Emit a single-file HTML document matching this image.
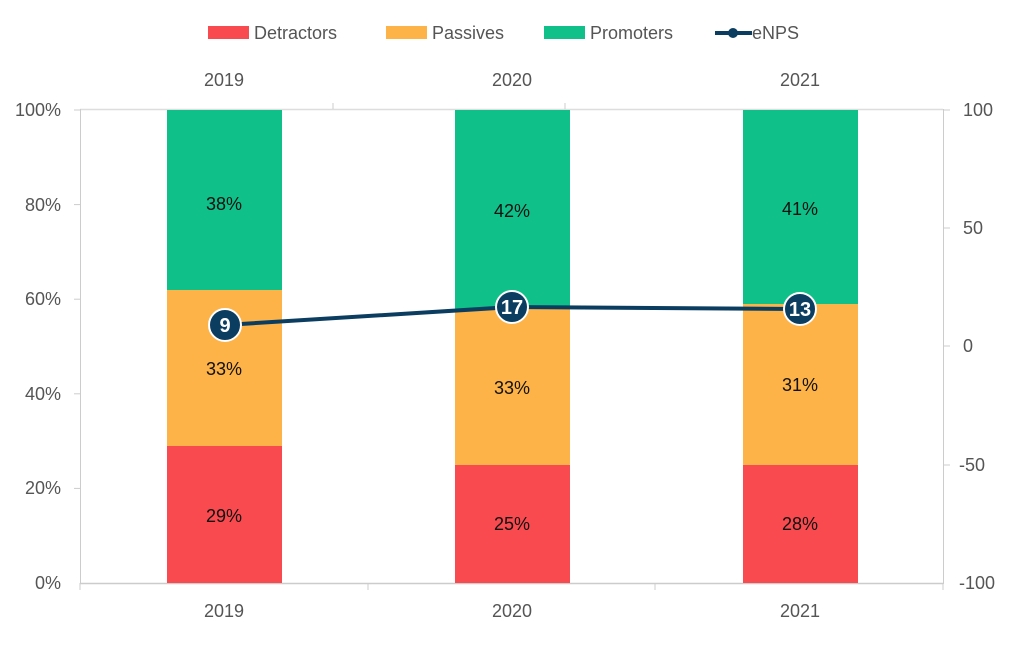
<!DOCTYPE html>
<html><head><meta charset="utf-8"><style>
body{margin:0;background:#fff;}
svg text{font-family:"Liberation Sans",sans-serif;}
</style></head><body>
<svg width="1024" height="643" viewBox="0 0 1024 643" xmlns="http://www.w3.org/2000/svg">
<rect x="208" y="26" width="41" height="13" fill="#f94a4f"/>
<text x="254" y="39" font-size="18" fill="#555">Detractors</text>
<rect x="386" y="26" width="41" height="13" fill="#fdb347"/>
<text x="432" y="39" font-size="18" fill="#555">Passives</text>
<rect x="544" y="26" width="41" height="13" fill="#0fc189"/>
<text x="590" y="39" font-size="18" fill="#555">Promoters</text>
<line x1="715" y1="33" x2="752" y2="33" stroke="#0b3d60" stroke-width="4"/>
<circle cx="733" cy="33" r="5" fill="#0b3d60"/>
<text x="752" y="39" font-size="18" fill="#555">eNPS</text>
<g font-size="18" fill="#555" text-anchor="middle">
<text x="224" y="86">2019</text><text x="512" y="86">2020</text><text x="800" y="86">2021</text>
<text x="224" y="617">2019</text><text x="512" y="617">2020</text><text x="800" y="617">2021</text>
</g>
<line x1="80" y1="109.5" x2="943" y2="109.5" stroke="#ddd" stroke-width="1.5"/>
<line x1="333" y1="103" x2="333" y2="109" stroke="#ccc"/>
<line x1="565" y1="103" x2="565" y2="109" stroke="#ccc"/>
<line x1="80" y1="583.5" x2="943" y2="583.5" stroke="#ccc" stroke-width="1.5"/>
<line x1="80.5" y1="109" x2="80.5" y2="584" stroke="#ccc"/>
<line x1="943.5" y1="109" x2="943.5" y2="584" stroke="#ccc"/>
<g stroke="#ccc">
<line x1="80" y1="583" x2="80" y2="590"/><line x1="368" y1="583" x2="368" y2="590"/><line x1="655" y1="583" x2="655" y2="590"/><line x1="943" y1="583" x2="943" y2="590"/>
<line x1="74" y1="110" x2="80" y2="110"/><line x1="74" y1="204.6" x2="80" y2="204.6"/><line x1="74" y1="299.2" x2="80" y2="299.2"/><line x1="74" y1="393.8" x2="80" y2="393.8"/><line x1="74" y1="488.4" x2="80" y2="488.4"/>
<line x1="943" y1="110" x2="950" y2="110"/><line x1="943" y1="228" x2="950" y2="228"/><line x1="943" y1="346" x2="950" y2="346"/><line x1="943" y1="465" x2="950" y2="465"/>
</g>
<g font-size="18" fill="#555" text-anchor="end">
<text x="61" y="116">100%</text><text x="61" y="211">80%</text><text x="61" y="305">60%</text><text x="61" y="400">40%</text><text x="61" y="494">20%</text><text x="61" y="589">0%</text>
</g>
<g font-size="18" fill="#555" text-anchor="start">
<text x="963" y="116">100</text><text x="963" y="234">50</text><text x="963" y="352">0</text><text x="959" y="471">-50</text><text x="959" y="589">-100</text>
</g>
<rect x="167" y="110" width="115" height="180" fill="#0fc189"/>
<rect x="167" y="290" width="115" height="156" fill="#fdb347"/>
<rect x="167" y="446" width="115" height="137" fill="#f94a4f"/>
<rect x="455" y="110" width="115" height="199" fill="#0fc189"/>
<rect x="455" y="309" width="115" height="156" fill="#fdb347"/>
<rect x="455" y="465" width="115" height="118" fill="#f94a4f"/>
<rect x="743" y="110" width="115" height="194" fill="#0fc189"/>
<rect x="743" y="304" width="115" height="161" fill="#fdb347"/>
<rect x="743" y="465" width="115" height="118" fill="#f94a4f"/>
<g font-size="18" fill="#111" text-anchor="middle">
<text x="224" y="210">38%</text><text x="224" y="375">33%</text><text x="224" y="522">29%</text>
<text x="512" y="217">42%</text><text x="512" y="394">33%</text><text x="512" y="530">25%</text>
<text x="800" y="215">41%</text><text x="800" y="391">31%</text><text x="800" y="530">28%</text>
</g>
<polyline points="225,325 512,307 800,309" fill="none" stroke="#0b3d60" stroke-width="4"/>
<g fill="#0b3d60" stroke="#fff" stroke-width="2">
<circle cx="225" cy="325" r="16"/><circle cx="512" cy="307" r="16"/><circle cx="800" cy="309" r="16"/>
</g>
<g font-size="20" font-weight="bold" fill="#fff" text-anchor="middle">
<text x="225" y="332">9</text><text x="512" y="314">17</text><text x="800" y="316">13</text>
</g>
</svg>
</body></html>
